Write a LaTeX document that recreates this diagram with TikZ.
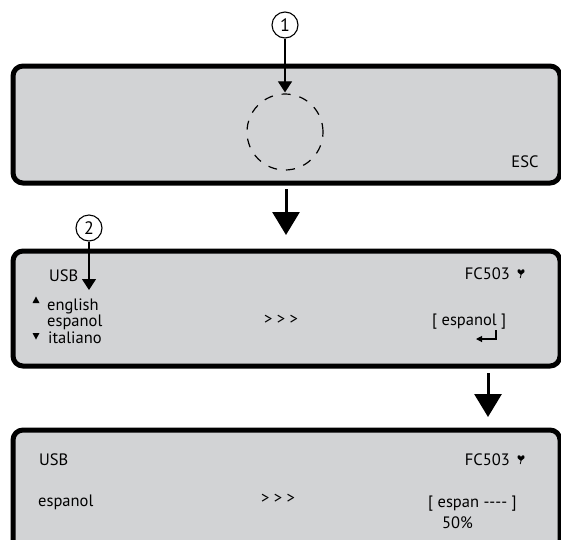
\documentclass[tikz,border=0pt]{standalone}
\usepackage{fontspec}
\setmainfont{PT Sans}
\usetikzlibrary{arrows.meta}
\definecolor{panelgray}{RGB}{210,211,213}
\tikzset{
  panel/.style={draw=black, line width=5pt, fill=panelgray, rounded corners=10pt, anchor=north west, inner sep=0pt},
  lbl/.style={inner sep=0pt, font=\fontsize{16.5}{16.5}\selectfont},
  num/.style={circle, draw, line width=1.1pt, fill=white, minimum size=26pt, inner sep=0pt, font=\fontsize{18}{18}\selectfont},
  thinarrow/.style={line width=1.1pt, -{Triangle[length=11pt,width=14pt]}},
  bigarrow/.style={line width=3pt, -{Triangle[length=23pt,width=27pt]}},
  dashcircle/.style={circle, draw, line width=1.2pt, dash pattern=on 9pt off 9pt, minimum size=76pt, inner sep=0pt},
  sigicon/.pic={
    \fill (0,-2) .. controls (-1,-4.5) and (-4,-4.5) .. (-3.5,-1) -- (0,2) -- (3.5,-1) .. controls (4,-4.5) and (1,-4.5) .. (0,-2);
    \draw[line width=0.8pt] (0,2) -- (-0.8,5);
  },
}
\begin{document}
\begin{tikzpicture}[x=1pt,y=-1pt]
\useasboundingbox (0,0) rectangle (561,539);
\clip (0,0) rectangle (561,539);

% panels
\node[panel, minimum width=547pt, minimum height=117pt] (p1) at (10.5,63.5) {};
\node[panel, minimum width=547pt, minimum height=115pt] (p2) at (10.5,248.5) {};
\node[panel, minimum width=547pt, minimum height=140pt] (p3) at (10.5,427.5) {};

% panel 1
\node[num] (n1) at (285,25) {1};
\node[dashcircle] (dc) at (285,132) {};
\draw[thinarrow] (n1) -- ([yshift=1pt]dc.north);
\node[lbl, anchor=base] (esc) at (525,167) {ESC};

% arrow 1
\coordinate (a1s) at (286,189);
\coordinate (a1e) at (286,235);
\draw[bigarrow] (a1s) -- (a1e);

% panel 2
\node[lbl, anchor=base west] (usb2) at (49,281) {USB};
\node[lbl, anchor=base east] (fc2) at (510,279) {FC503};
\pic at (521,273) {sigicon};
\fill (32.5,303) -- (39.5,303) -- (36,296.5) -- cycle;
\node[lbl, anchor=base west] (en) at (47,310) {english};
\node[lbl, anchor=base west] (es) at (47,326) {espanol};
\fill (32.5,333) -- (39.5,333) -- (36,339.5) -- cycle;
\node[lbl, anchor=base west] (it) at (48,343) {italiano};
\node[lbl, anchor=base] (gt2) at (281,324) {> > >};
\node[lbl, anchor=base west] (sel2) at (432,325) {[ espanol ]};
\draw[line width=1.1pt, -{Triangle[length=6pt,width=6pt]}] (496,330) -- (496,339) -- (476,339);
\node[num] (n2) at (89,228) {2};
\coordinate (n2t) at (89,290);
\draw[thinarrow] (n2) -- (n2t);

% arrow 2
\coordinate (a2s) at (488,373);
\coordinate (a2e) at (488,417);
\draw[bigarrow] (a2s) -- (a2e);

% panel 3
\node[lbl, anchor=base west] (usb3) at (39,465) {USB};
\node[lbl, anchor=base east] (fc3) at (510,465) {FC503};
\pic at (521,459) {sigicon};
\node[lbl, anchor=base west] (es3) at (38,506) {espanol};
\node[lbl, anchor=base] (gt3) at (278,503) {> > >};
\node[lbl, anchor=base west] (sel3) at (428,507) {[ espan {-}{-}{-}{-} ]};
\node[lbl, anchor=base west] (pc) at (442,528) {50\%};
\end{tikzpicture}
\end{document}
